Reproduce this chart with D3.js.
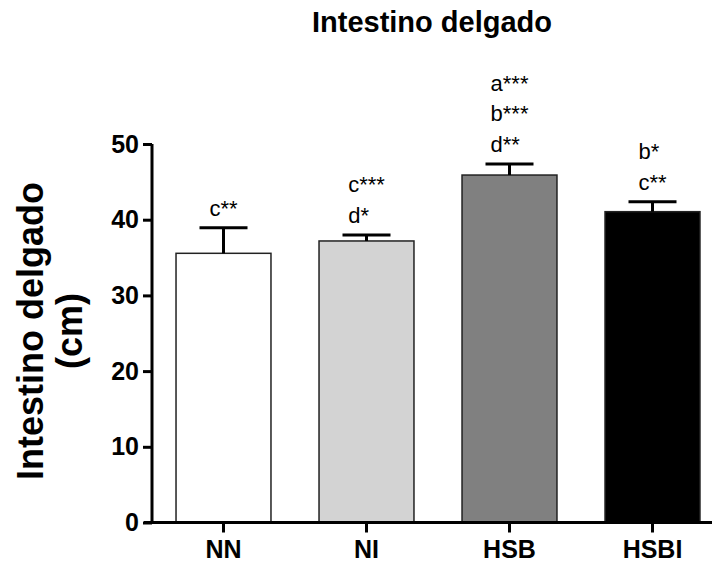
<!DOCTYPE html>
<html>
<head>
<meta charset="utf-8">
<script src="https://cdn.jsdelivr.net/npm/d3@7"></script>
<style>
  body { margin: 0; background: #fff; }
  svg { display: block; font-family: Arial, "Liberation Sans", sans-serif; }
</style>
</head>
<body>
<svg id="chart" width="715" height="562"></svg>
<script>
const categories = ["NN", "NI", "HSB", "HSBI"];
const means = [35.56, 37.19, 45.9, 41.06];
const errors = [3.38, 0.79, 1.46, 1.32];
const annotations = [["c**"], ["c***", "d*"], ["a***", "b***", "d**"], ["b*", "c**"]];
const fills = ["#ffffff", "#d3d3d3", "#808080", "#000000"];
const yTicks = [0, 10, 20, 30, 40, 50];
const title = "Intestino delgado";
const yTitle = ["Intestino delgado", "(cm)"];

const svg = d3.select("#chart");
const x = d3.scaleBand().domain(categories).range([152, 724]).paddingInner(0.336).paddingOuter(0.168);
const y = d3.scaleLinear().domain([0, 50]).range([522.5, 144]);

// title
svg.append("text").attr("x", 432).attr("y", 32).attr("text-anchor", "middle")
  .attr("font-size", 29).attr("font-weight", "bold").text(title);

// y axis title
const yt = svg.append("text").attr("transform", "translate(0,331) rotate(-90)")
  .attr("text-anchor", "middle").attr("font-size", 36).attr("font-weight", "bold");
yt.selectAll("tspan").data(yTitle).join("tspan")
  .attr("x", 0).attr("y", (d, i) => 43 + i * 39).text(d => d);

// bars
svg.append("g").selectAll("rect").data(categories).join("rect")
  .attr("x", d => x(d)).attr("width", x.bandwidth())
  .attr("y", (d, i) => y(means[i])).attr("height", (d, i) => y(0) - y(means[i]))
  .attr("fill", (d, i) => fills[i]).attr("stroke", "#222").attr("stroke-width", 1.5);

// error bars
const eb = svg.append("g").attr("stroke", "#000").attr("stroke-width", 3);
categories.forEach((c, i) => {
  const cx = x(c) + x.bandwidth() / 2;
  eb.append("line").attr("x1", cx).attr("x2", cx).attr("y1", y(means[i])).attr("y2", y(means[i] + errors[i]));
  eb.append("line").attr("x1", cx - 24).attr("x2", cx + 24).attr("y1", y(means[i] + errors[i])).attr("y2", y(means[i] + errors[i]));
});

// annotations
const ag = svg.append("g").attr("font-size", 22);
categories.forEach((c, i) => {
  const cx = x(c) + x.bandwidth() / 2;
  const lines = annotations[i];
  const top = y(means[i] + errors[i]) - 12;
  const g = ag.append("g");
  const texts = g.selectAll("text").data(lines).join("text")
    .attr("y", (d, j) => top - (lines.length - 1 - j) * 30.5).text(d => d);
  let w = 0;
  texts.each(function () { w = Math.max(w, this.getComputedTextLength()); });
  texts.attr("x", cx - w / 2);
});

// y axis
const yAxis = d3.axisLeft(y).tickValues(yTicks).tickSize(9).tickPadding(4);
const ya = svg.append("g").attr("transform", "translate(152,0)").call(yAxis);
ya.select(".domain").remove();
ya.selectAll(".tick line").attr("stroke", "#000").attr("stroke-width", 3);
ya.selectAll(".tick text").attr("font-size", 25).attr("font-weight", "bold")
  .attr("font-family", "Arial, 'Liberation Sans', sans-serif").attr("fill", "#000");
svg.append("line").attr("x1", 152).attr("x2", 152).attr("y1", y(50)).attr("y2", y(0) + 1.5)
  .attr("stroke", "#000").attr("stroke-width", 3);

// x axis
const xAxis = d3.axisBottom(x).tickSize(10).tickPadding(8);
const xa = svg.append("g").attr("transform", `translate(0,${y(0)})`).call(xAxis);
xa.select(".domain").remove();
xa.selectAll(".tick line").attr("stroke", "#000").attr("stroke-width", 3);
xa.selectAll(".tick text").attr("font-size", 25).attr("font-weight", "bold")
  .attr("font-family", "Arial, 'Liberation Sans', sans-serif").attr("fill", "#000")
  .attr("dy", null).attr("y", 35);
svg.append("line").attr("x1", 144).attr("x2", 712).attr("y1", y(0)).attr("y2", y(0))
  .attr("stroke", "#000").attr("stroke-width", 3);
</script>
</body>
</html>
